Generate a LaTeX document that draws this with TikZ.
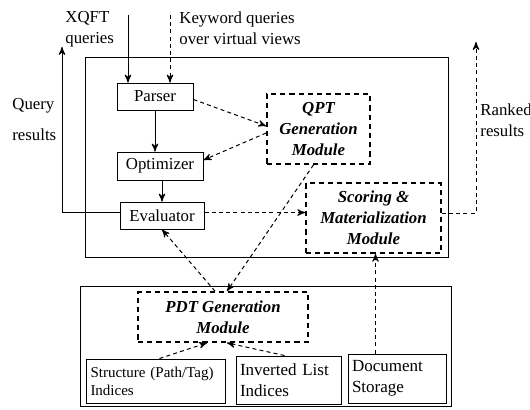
\documentclass[tikz,border=0pt]{standalone}
\usepackage{fontspec}
\setmainfont{Liberation Serif}
\usepackage{tikz}
\usetikzlibrary{arrows}

\tikzset{
  box/.style={draw, line width=0.5pt, inner sep=0pt},
  modbox/.style={draw, line width=0.85pt, dash pattern=on 2.6pt off 2pt,
    inner sep=0pt, align=center, font=\fontsize{8.4}{10.5}\selectfont\bfseries\itshape},
  dashline/.style={line width=0.5pt, dash pattern=on 2pt off 1.6pt},
  lbl/.style={align=left, inner sep=0pt, anchor=west}
}

\begin{document}
\begin{tikzpicture}[x=0.5pt, y=-0.5pt, >=stealth', font=\fontsize{8.4}{10.5}\selectfont]
        \useasboundingbox (0,0) rectangle (530,409);
        \draw[line width=0.5pt] (85,57) rectangle (448,257);
        \draw[line width=0.5pt] (80,286) rectangle (451,406);

        \node[box, minimum width=38pt, minimum height=13.5pt] (P) at (155,96.5) {Parser};
        \node[box, minimum width=43pt, minimum height=14pt] (O) at (160,166) {Optimizer};
        \node[box, minimum width=42pt, minimum height=13.5pt] (E) at (162,215.5) {Evaluator};
        \node[modbox, minimum width=51.5pt, minimum height=35pt] (Q) at (318.5,129)
          {QPT\\Generation\\Module};
        \node[modbox, minimum width=67.5pt, minimum height=35pt] (S) at (373.5,218)
          {Scoring \&\\Materialization\\Module};
        \node[modbox, minimum width=85pt, minimum height=25pt] (D) at (223,317)
          {PDT Generation\\Module};
        \node[box, minimum width=69.5pt, minimum height=22pt, text width=65pt, align=left,
          font=\fontsize{7.5}{9}\selectfont] (I1) at (155.5,381) {Structure (Path/Tag)\\Indices};
        \node[box, minimum width=52.5pt, minimum height=24pt, text width=48.5pt, align=left,
          font=\fontsize{8.5}{10.5}\selectfont] (I2) at (288.5,380) {Inverted List\\Indices};
        \node[box, minimum width=49pt, minimum height=24.5pt, text width=45pt, align=left,
          font=\fontsize{8.5}{10.5}\selectfont] (DS) at (397,378.5) {Document\\Storage};

        \node[lbl] (xq) at (65,29) {XQFT\\queries};
        \node[lbl] (kw) at (179,28) {Keyword queries\\over virtual views};
        \node[lbl, font=\fontsize{8.4}{15.5}\selectfont] (qr) at (12,120) {Query\\results};
        \node[lbl] (rr) at (480,120) {Ranked\\results};
        \coordinate (xa) at (128,15);
        \coordinate (ka) at (170,15);
        \coordinate (qa) at (62,47);
        \coordinate (ra) at (476,42);

        \draw[->, line width=0.5pt] (xa) -- (xa |- P.north);
        \draw[->, dashline] (ka) -- (ka |- P.north);
        \draw[->, line width=0.5pt] (P) -- (P |- O.north);
        \draw[->, line width=0.5pt] (O.south -| E) -- (E);
        \draw[->, line width=0.5pt] ([yshift=1.5pt]E.west) -| (qa);
        \draw[->, dashline] ([yshift=-1.5pt]P.east) -- ([yshift=1.5pt]Q.west);
        \draw[->, dashline] ([yshift=-2pt]Q.west) -- ([yshift=3pt]O.east);
        \draw[->, dashline] ([yshift=1.5pt]E.east) -- ([yshift=1.5pt]E.east -| S.west);
        \draw[->, dashline] ([yshift=2.5pt]S.east) -| (ra);
        \draw[->, dashline] ([xshift=-2.5pt]Q.south) -- ([xshift=2pt]D.north);
        \draw[->, dashline] ([xshift=-4pt]D.north) -- (E.south);
        \draw[->, dashline] ([xshift=2pt]I1.north) -- ([xshift=-8pt]D.south);
        \draw[->, dashline] ([xshift=-2pt]I2.north) -- ([xshift=2pt]D.south);
        \draw[->, dashline] ([xshift=1pt]S.south |- DS.north) -- ([xshift=1pt]S.south);
      \end{tikzpicture}
\end{document}
